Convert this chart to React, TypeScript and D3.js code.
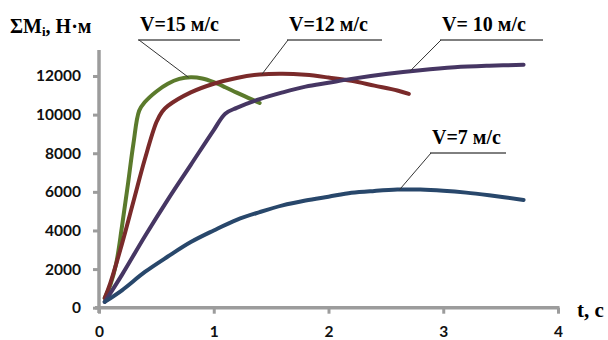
import React, { useRef, useEffect } from "react";
import * as d3 from "d3";

// t, s
const tV15 = [0.05, 0.1, 0.15, 0.2, 0.25, 0.3, 0.35, 0.4, 0.5, 0.6, 0.7, 0.8, 0.9, 1.0, 1.1, 1.2, 1.3, 1.4];
const mV15 = [500, 1200, 2300, 4200, 6300, 8500, 10200, 10650, 11200, 11600, 11850, 11930, 11870, 11680, 11420, 11140, 10870, 10600];

const tV12 = [0.05, 0.1, 0.2, 0.3, 0.4, 0.5, 0.55, 0.6, 0.8, 1.0, 1.2, 1.4, 1.6, 1.8, 2.0, 2.2, 2.4, 2.6, 2.7];
const mV12 = [500, 1300, 3300, 5500, 7700, 9600, 10150, 10450, 11150, 11600, 11900, 12080, 12120, 12060, 11920, 11750, 11500, 11250, 11070];

const tV10 = [0.05, 0.2, 0.4, 0.6, 0.8, 1.0, 1.1, 1.2, 1.4, 1.6, 1.8, 2.0, 2.2, 2.5, 2.8, 3.1, 3.4, 3.7];
const mV10 = [300, 1700, 3700, 5600, 7400, 9200, 10050, 10350, 10800, 11150, 11450, 11650, 11850, 12100, 12300, 12450, 12530, 12580];

const tV7 = [0.05, 0.2, 0.4, 0.6, 0.8, 1.0, 1.2, 1.4, 1.6, 1.8, 2.0, 2.2, 2.4, 2.6, 2.8, 3.0, 3.2, 3.4, 3.7];
const mV7 = [300, 900, 1850, 2650, 3400, 4000, 4550, 4950, 5300, 5550, 5750, 5950, 6050, 6120, 6120, 6060, 5960, 5820, 5580];

const seriesNames = ["V=15 м/с", "V=12 м/с", "V= 10 м/с", "V=7 м/с"];
const seriesColors = ["#5b7a2c", "#7a2a2a", "#463663", "#28476b"];

const xTicks = [0, 1, 2, 3, 4];
const yTicks = [0, 2000, 4000, 6000, 8000, 10000, 12000];

// label placement: underline left x, underline y, underline width, point on curve (t, M)
const labelPos = [
  { x: 138, y: 40, w: 102, at: [0.78, 11930] },
  { x: 287, y: 40, w: 95, at: [1.42, 12090] },
  { x: 440, y: 40, w: 103, at: [2.71, 12250] },
  { x: 430, y: 153, w: 76, at: [2.62, 6120] },
];

const App = () => {
  const ref = useRef<SVGSVGElement>(null);

  useEffect(() => {
    const svg = d3.select(ref.current);
    svg.selectAll("*").remove();

    const x = d3.scaleLinear().domain([0, 4]).range([99, 558]);
    const y = d3.scaleLinear().domain([0, 12000]).range([307.7, 76]);

    const axisColor = "#9c9c9c";
    const tickFont = "Lato, 'Open Sans', sans-serif";

    // y axis
    const yAxis = svg.append("g").attr("transform", `translate(${x(0)},0)`)
      .call(d3.axisLeft(y).tickValues(yTicks).tickSize(6).tickSizeOuter(0).tickFormat(d3.format("d")));
    yAxis.select(".domain").remove();
    yAxis.selectAll(".tick line").attr("stroke", axisColor).attr("stroke-width", 3);
    yAxis.selectAll(".tick text").attr("x", -18).attr("font-size", 15.5).attr("font-weight", "bold")
      .attr("font-family", tickFont).attr("fill", "#111");
    yAxis.append("line").attr("x1", 0).attr("x2", 0).attr("y1", 50).attr("y2", 313)
      .attr("stroke", axisColor).attr("stroke-width", 3.5);

    // x axis
    const xAxis = svg.append("g").attr("transform", `translate(0,${y(0)})`)
      .call(d3.axisBottom(x).tickValues(xTicks).tickSize(6).tickSizeOuter(0).tickFormat(d3.format("d")));
    xAxis.select(".domain").remove();
    xAxis.selectAll(".tick line").attr("stroke", axisColor).attr("stroke-width", 3);
    xAxis.selectAll(".tick text").attr("y", 18).attr("font-size", 15.5).attr("font-weight", "bold")
      .attr("font-family", tickFont).attr("fill", "#111");
    xAxis.append("line").attr("x1", x(0) - 4).attr("x2", x(4) + 1.5).attr("y1", 0).attr("y2", 0)
      .attr("stroke", axisColor).attr("stroke-width", 3.5);

    // curves
    const ts = [tV15, tV12, tV10, tV7];
    const ms = [mV15, mV12, mV10, mV7];
    const line = d3.line<[number, number]>()
      .x((d) => x(d[0]))
      .y((d) => y(d[1]))
      .curve(d3.curveCatmullRom.alpha(0.5));

    ts.forEach((t, i) => {
      const pts = t.map((v, j) => [v, ms[i][j]] as [number, number]);
      svg.append("path").attr("d", line(pts)).attr("fill", "none")
        .attr("stroke", seriesColors[i]).attr("stroke-width", 4).attr("stroke-linecap", "round")
        .attr("stroke-linejoin", "round");
    });

    // labels with leader lines
    const serif = "'Liberation Serif', 'Times New Roman', serif";
    labelPos.forEach((p, i) => {
      svg.append("line").attr("x1", p.x).attr("x2", p.x + p.w).attr("y1", p.y).attr("y2", p.y)
        .attr("stroke", "#000").attr("stroke-width", 1);
      svg.append("line").attr("x1", p.x + 1).attr("y1", p.y)
        .attr("x2", x(p.at[0])).attr("y2", y(p.at[1]))
        .attr("stroke", "#333").attr("stroke-width", 1);
      svg.append("text").attr("x", p.x + 2).attr("y", p.y - 9)
        .attr("font-family", serif).attr("font-weight", "bold").attr("font-size", 20)
        .text(seriesNames[i]);
    });

    // axis titles
    const yt = svg.append("text").attr("x", 10).attr("y", 33).attr("font-family", serif)
      .attr("font-weight", "bold").attr("font-size", 20);
    yt.append("tspan").text("ΣM");
    yt.append("tspan").attr("font-size", 13).attr("dy", 3).text("i");
    yt.append("tspan").attr("dy", -3).text(", Н·м");

    svg.append("text").attr("x", 577).attr("y", 317).attr("font-family", serif)
      .attr("font-weight", "bold").attr("font-size", 21).text("t, с");
  }, []);

  return (
    <svg ref={ref} width="608" height="340" style={{ position: "absolute", left: 0, top: 0, background: "#fff" }} />
  );
};

export default App;
